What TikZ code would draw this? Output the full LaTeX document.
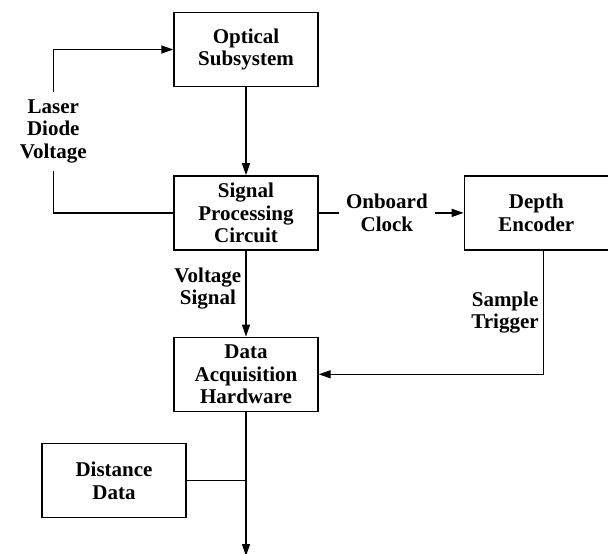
\documentclass[tikz,border=0pt]{standalone}
\usepackage{fontspec}
\setmainfont{Liberation Serif}
\usetikzlibrary{arrows.meta,positioning}
\tikzset{
block/.style={draw,line width=1.4pt,align=center,minimum height=74pt,minimum width=144pt,font=\fontsize{21}{22.5}\selectfont\bfseries},
lbl/.style={align=center,font=\fontsize{21}{22.5}\selectfont\bfseries},
arrow/.style={-{Triangle[length=12pt,width=8pt]},line width=1.4pt}
}
\begin{document}
\begin{tikzpicture}[node distance=87pt and 145pt]
\useasboundingbox (-246pt,49.5pt) rectangle (362pt,-504.5pt);
\node[block] (opt) {Optical\\Subsystem};
\node[block,below=88pt of opt] (spc) {Signal\\Processing\\Circuit};
\node[block,right=of spc] (dep) {Depth\\Encoder};
\node[block,below=86pt of spc] (daq) {Data\\Acquisition\\Hardware};
\node[block,below=31pt of daq,xshift=-132pt] (dist) {Distance\\Data};
\coordinate[below=144pt of daq] (out);
\draw[arrow] (opt)--(spc);
\draw[arrow] (spc.west)--++(-120pt,0) |- node[lbl,pos=.25,fill=white,inner sep=8pt]{Laser\\Diode\\Voltage} (opt.west);
\draw[arrow] (spc)-- node[lbl,pos=.47,fill=white,inner sep=7pt]{Onboard\\Clock} (dep);
\draw[arrow] (spc)-- node[lbl,left,pos=.44,inner sep=4pt]{Voltage\\Signal} (daq);
\draw[arrow] ([xshift=7pt]dep.south) |- node[lbl,left,pos=.25,inner sep=4pt]{Sample\\Trigger} (daq.east);
\draw[arrow] (daq)--(out);
\draw[line width=1.4pt] (dist.east)--(dist.east -| daq.south);
\end{tikzpicture}
\end{document}
